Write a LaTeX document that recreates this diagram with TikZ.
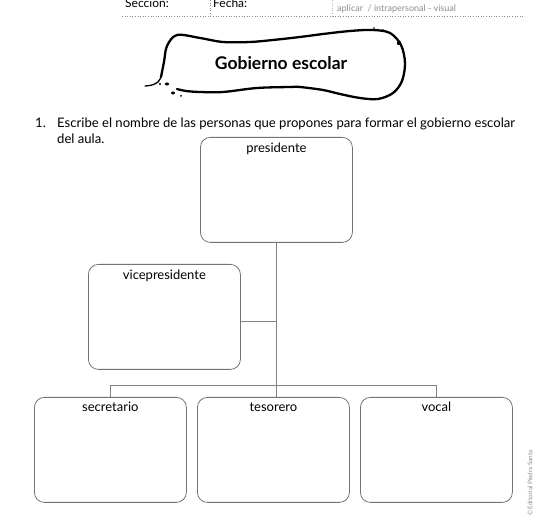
\documentclass[tikz,border=0pt]{standalone}
\usepackage{fontspec}
\setmainfont{Lato}
\usetikzlibrary{calc}
\begin{document}
\begin{tikzpicture}[x=1pt,y=-1pt,
  box/.style={draw=black!55, line width=0.8pt, rounded corners=10pt, minimum width=152pt, minimum height=105pt, anchor=north west, inner sep=0pt},
  lbl/.style={anchor=base, font=\fontsize{13}{15}\selectfont, inner sep=0pt},
  conn/.style={draw=black!50, line width=0.7pt},
  hdr/.style={anchor=base west, inner sep=0pt, font=\fontsize{12}{14}\selectfont},
  qtext/.style={anchor=base west, inner sep=0pt, font=\fontsize{13.1}{15}\selectfont},
  dotl/.style={draw=black!45, line width=0.6pt, dotted},
  ink/.style={line width=2.3pt, line join=round, line cap=round}]
\useasboundingbox (0,0) rectangle (550,518);
% header
\node[hdr] (sec) at (125,8) {Sección:};
\node[hdr] (fec) at (213,8) {Fecha:};
\node[hdr, text=black!45, font=\fontsize{9}{10}\selectfont] (apl) at (337,12) {aplicar~ / intrapersonal - visual};
\draw[dotl] (122,16) -- (525,16);
\draw[dotl] (210,0) -- (210,16);
\draw[dotl, draw=black!30] (332,0) -- (332,16);
% speech bubble
\draw[ink] plot[smooth, tension=0.55] coordinates {
 (161,77) (164,62) (167,46) (177,35) (200,38) (223,42) (250,42) (273,40) (300,37) (323,34) (350,31) (373,30) (390,33) (401,45) (405,63) (402,81) (393,93) (378,99) (360,98) (340,94) (323,90) (300,87) (290,87) (257,88) (223,92) (200,92) (186,91) (177,89)};
\draw[line width=1.3pt, line cap=round] plot[smooth, tension=0.6] coordinates {(145,86) (152,85) (158,82) (161,77)};
\fill (399,43) circle (2.2pt);
\fill (383,30) circle (0.9pt);
\fill (374,28) circle (0.9pt);
\fill (160,84) circle (1.2pt);
\fill (167,84) ellipse (2.2pt and 1.5pt);
\fill (173,93) ellipse (2pt and 1.5pt);
\fill (181,96) circle (1pt);
\node[font=\fontsize{17.5}{20}\selectfont\bfseries] (title) at (281,63) {Gobierno escolar};
% question
\node[qtext] (num) at (35,128) {1.};
\node[qtext] (q1) at (57,128) {Escribe el nombre de las personas que propones para formar el gobierno escolar};
\node[qtext] (q2) at (57,144) {del aula.};
% boxes
\node[box] (pres) at (200,137) {};
\node[box] (vice) at (88,264) {};
\node[box] (secr) at (34,397) {};
\node[box] (teso) at (197,397) {};
\node[box] (voca) at (360,397) {};
\node[lbl] (presL) at ([yshift=-16pt]pres.north) {presidente};
\node[lbl] (viceL) at ([yshift=-16pt]vice.north) {vicepresidente};
\node[lbl] (secrL) at ([yshift=-15pt]secr.north) {secretario};
\node[lbl] (tesoL) at ([yshift=-15pt]teso.north) {tesorero};
\node[lbl] (vocaL) at ([yshift=-15pt]voca.north) {vocal};
% connectors
\coordinate (bar) at (276,385);
\draw[conn] (pres.south) -- (pres.south |- teso.north);
\draw[conn] ([yshift=-4pt]vice.east) -- ([yshift=-4pt]vice.east -| pres.south);
\draw[conn] (secr.north) -- (secr.north |- bar) -- (voca.north |- bar) -- (voca.north);
% copyright
\node[rotate=90, anchor=east, inner sep=0pt, text=black!45, font=\fontsize{6.3}{7}\selectfont] (copy) at (530,450) {© Editorial Piedra Santa};
\end{tikzpicture}
\end{document}
